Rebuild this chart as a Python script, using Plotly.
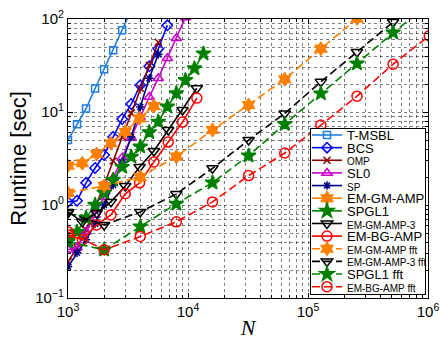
import plotly.graph_objects as go

# Signal lengths N for each sweep
N_quarter_octave = [1000, 1189, 1414, 1682, 2000, 2378, 2828, 3364, 4000, 4757,
                    5657, 6727, 8000, 9514, 11314, 13454]
N_third_steps = [1000, 1316, 1732, 2280, 3000, 3948, 5196, 6839, 9000, 11845]
N_doubling = [1000, 2000, 4000, 8000, 16000, 32000, 64000, 128000, 256000,
              512000, 1024000]

# Runtimes in seconds
t_msbl = [5.0, 7.4, 10.9, 17.9, 28.8, 46.1, 75.6, 124]
bcs = [1.08, 1.11, 1.73, 2.50, 3.45, 5.38, 8.40, 12.2, 19.4, 31.0, 47.9, 85.5]
omp = [0.245, 0.346, 0.54, 0.93, 1.64, 2.97, 5.38, 9.73, 18.0, 31.8, 56.2]
sl0 = [0.330, 0.347, 0.515, 0.783, 1.22, 1.95, 3.23, 5.25, 8.81, 14.5, 23.1,
       37.9, 62.1, 104]
sp = [0.217, 0.306, 0.422, 0.627, 1.0, 1.64, 2.90, 5.38, 11.3, 23.1, 41.8]
em_gm_amp = [2.65, 2.81, 3.53, 4.61, 6.14, 8.55, 11.6]
spgl1 = [0.422, 0.514, 0.727, 1.0, 1.35, 1.86, 2.56, 3.30, 4.23, 6.05, 7.85,
         11.4, 15.9, 22.0, 29.4, 42.5]
em_gm_amp_3 = [0.843, 0.659, 0.822, 1.08, 1.60, 2.56, 3.81, 6.40, 10.5, 18.0]
em_bg_amp = [0.477, 0.422, 0.611, 0.782, 1.32, 1.73, 2.90, 4.75, 7.79, 14.1]
em_gm_amp_fft = [1.35, 1.60, 2.0, 3.31, 6.40, 11.9, 22.5, 47.9, 101]
em_gm_amp_3_fft = [0.822, 0.611, 0.843, 1.315, 2.48, 4.99, 9.66, 21.1, 44.2, 92.8]
spgl1_fft = [0.402, 0.330, 0.586, 1.03, 1.74, 3.39, 7.41, 15.8, 33.2, 71.5, 150]
em_bg_amp_fft = [0.514, 0.330, 0.458, 0.659, 1.08, 2.07, 3.62, 7.23, 14.8, 32.7, 66]

x_ticks = [1e3, 1e4, 1e5, 1e6]
x_ticktext = ['10<sup>3</sup>', '10<sup>4</sup>', '10<sup>5</sup>', '10<sup>6</sup>']
y_ticks = [0.1, 1, 10, 100]
y_ticktext = ['10<sup>\u22121</sup>', '10<sup>0</sup>', '10<sup>1</sup>', '10<sup>2</sup>']

BIG, SMALL = 13, 10

# name, legend font size, N grid, runtimes, color, symbol, marker size, dash
series = [
    ('T-MSBL', BIG, N_quarter_octave, t_msbl, '#1f7fe0', 'square-open', 7, 'solid'),
    ('BCS', BIG, N_quarter_octave, bcs, '#0000ff', 'diamond-open', 8, 'solid'),
    ('OMP', SMALL, N_quarter_octave, omp, '#8b0000', 'x-thin-open', 7, 'solid'),
    ('SL0', BIG, N_quarter_octave, sl0, '#cc00cc', 'triangle-up-open', 9, 'solid'),
    ('SP', SMALL, N_quarter_octave, sp, '#000080', 'asterisk-open', 7, 'solid'),
    ('EM-GM-AMP', BIG, N_third_steps, em_gm_amp, '#ff8000', 'hexagram', 10, 'solid'),
    ('SPGL1', BIG, N_quarter_octave, spgl1, '#008000', 'star', 11, 'solid'),
    ('EM-GM-AMP-3', SMALL, N_third_steps, em_gm_amp_3, '#000000', 'triangle-down-open', 10, 'solid'),
    ('EM-BG-AMP', BIG, N_third_steps, em_bg_amp, '#ff0000', 'circle-open', 10, 'solid'),
    ('EM-GM-AMP fft', SMALL, N_doubling, em_gm_amp_fft, '#ff8000', 'hexagram', 10, 'dash'),
    ('EM-GM-AMP-3 fft', SMALL, N_doubling, em_gm_amp_3_fft, '#000000', 'triangle-down-open', 10, 'dash'),
    ('SPGL1 fft', BIG, N_doubling, spgl1_fft, '#008000', 'star', 11, 'dash'),
    ('EM-BG-AMP fft', SMALL, N_doubling, em_bg_amp_fft, '#ff0000', 'circle-open', 10, 'dash'),
]

fig = go.Figure()
for name, fsize, n, t, color, symbol, msize, dash in series:
    fig.add_trace(go.Scatter(
        x=n[:len(t)], y=t, mode='lines+markers',
        name=f'<span style="font-size:{fsize}px">{name}</span>',
        line=dict(color=color, width=1.6, dash='8px,4px' if dash == 'dash' else 'solid'),
        marker=dict(symbol=symbol, size=msize, color=color,
                    line=dict(color=color, width=1.5)),
        cliponaxis=True,
    ))

grid = dict(showgrid=True, gridcolor='rgba(0,0,0,0.5)', griddash='dot', gridwidth=1)
minor_x = [m * 10 ** e for e in range(3, 6) for m in range(2, 10)]
minor_y = [m * 10 ** e for e in range(-1, 2) for m in range(2, 10)]

fig.update_xaxes(
    type='log', range=[3, 6], tickvals=x_ticks, ticktext=x_ticktext,
    ticks='inside', ticklen=5, tickcolor='black', tickwidth=1,
    showline=True, linecolor='black', linewidth=1.3, mirror='allticks',
    tickfont=dict(family='Liberation Sans', size=15, color='black'),
    title=dict(text='<i>N</i>', font=dict(family='Liberation Serif', size=22, color='black'),
               standoff=4),
    minor=dict(tickvals=minor_x, ticks='inside', ticklen=3, tickcolor='black', **grid),
    zeroline=False, **grid,
)
fig.update_yaxes(
    type='log', range=[-1, 2], tickvals=y_ticks, ticktext=y_ticktext,
    ticks='inside', ticklen=5, tickcolor='black', tickwidth=1,
    showline=True, linecolor='black', linewidth=1.3, mirror='allticks',
    tickfont=dict(family='Liberation Sans', size=15, color='black'),
    title=dict(text='Runtime [sec]', font=dict(family='Liberation Sans', size=22, color='black'),
               standoff=2),
    minor=dict(tickvals=minor_y, ticks='inside', ticklen=3, tickcolor='black', **grid),
    zeroline=False, **grid,
)

fig.update_layout(
    width=440, height=340,
    margin=dict(l=68, r=12, t=19, b=42, autoexpand=False),
    paper_bgcolor='white', plot_bgcolor='white',
    showlegend=True,
    legend=dict(
        x=0.672, y=0.606, xanchor='left', yanchor='top',
        bgcolor='white', bordercolor='black', borderwidth=1,
        font=dict(family='Liberation Sans', size=BIG, color='black'),
        itemwidth=30, tracegroupgap=0,
    ),
)

# Pack the legend rows at a fixed pitch inside a box at the lower right
post = """
var gd = document.getElementById('{plot_id}');
function compactLegend() {
  var leg = gd.querySelector('g.legend');
  if (!leg) return;
  var items = leg.querySelectorAll('g.traces');
  var top = 7.0, step = 12.64, bottom = 7.6, shiftX = -3;
  items.forEach(function (g, i) {
    g.setAttribute('transform', 'translate(' + shiftX + ',' + (top + i * step) + ')');
  });
  leg.querySelectorAll('g.groups').forEach(function (g) {
    g.setAttribute('transform', 'translate(0,0)');
  });
  var sb = leg.querySelector('g.scrollbox');
  if (sb) { sb.setAttribute('transform', 'translate(0,0)'); sb.removeAttribute('clip-path'); }
  leg.querySelectorAll('rect.scrollbar').forEach(function (r) { r.style.display = 'none'; });
  var bg = leg.querySelector('rect.bg');
  if (bg) {
    bg.setAttribute('x', 0.5); bg.setAttribute('y', 0.5);
    bg.setAttribute('width', 115);
    bg.setAttribute('height', top + (items.length - 1) * step + bottom);
  }
  leg.setAttribute('transform', 'translate(310,128)');
}
compactLegend();
gd.on('plotly_afterplot', compactLegend);
"""

fig.write_html('out.html', post_script=post)
